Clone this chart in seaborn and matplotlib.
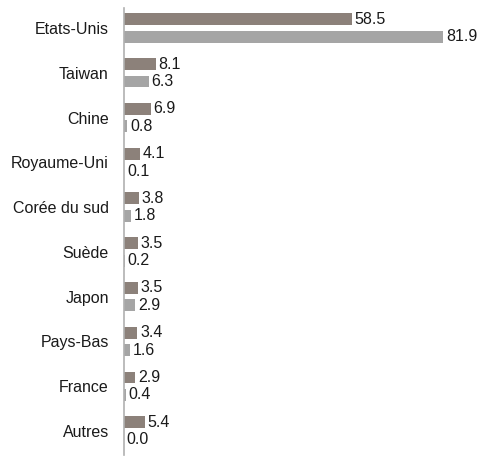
import pandas as pd
import numpy as np
import seaborn as sns
import matplotlib.pyplot as plt

# Data
pays = ['Etats-Unis', 'Taiwan', 'Chine', 'Royaume-Uni', 'Corée du sud',
        'Suède', 'Japon', 'Pays-Bas', 'France', 'Autres']
serie_a = [58.5, 8.1, 6.9, 4.1, 3.8, 3.5, 3.5, 3.4, 2.9, 5.4]
serie_b = [81.9, 6.3, 0.8, 0.1, 1.8, 0.2, 2.9, 1.6, 0.4, 0.0]

df = pd.DataFrame({
    'Pays': pays * 2,
    'Valeur': serie_a + serie_b,
    'Serie': ['A'] * len(pays) + ['B'] * len(pays),
})

sns.set_style("white")
plt.rcParams['font.family'] = ['Liberation Sans', 'DejaVu Sans']

fig = plt.figure(figsize=(4.8, 4.59), dpi=100)
ax = fig.add_axes([124 / 480, 1 - 455 / 459, 1 - 124 / 480, 447 / 459])

sns.barplot(data=df, y='Pays', x='Valeur', hue='Serie', orient='h',
            palette=['#8f8077', '#a5a5a5'], width=0.78, gap=0.32,
            linewidth=0, legend=False, ax=ax)

for cont in ax.containers:
    ax.bar_label(cont, fmt='%.1f', padding=2, fontsize=11.5, color='#1a1a1a')

ax.set_xlim(0, (480 - 124) / 3.895)
ax.set_ylim(9.536, -0.446)
ax.set_xlabel('')
ax.set_ylabel('')
ax.set_xticks([])
ax.tick_params(axis='y', length=0, pad=11, labelsize=11.5, labelcolor='#1a1a1a')
for s in ['top', 'right', 'bottom']:
    ax.spines[s].set_visible(False)
ax.spines['left'].set_color('#b0b0b0')
ax.spines['left'].set_linewidth(1.2)

fig.savefig('out.png', dpi=100)
